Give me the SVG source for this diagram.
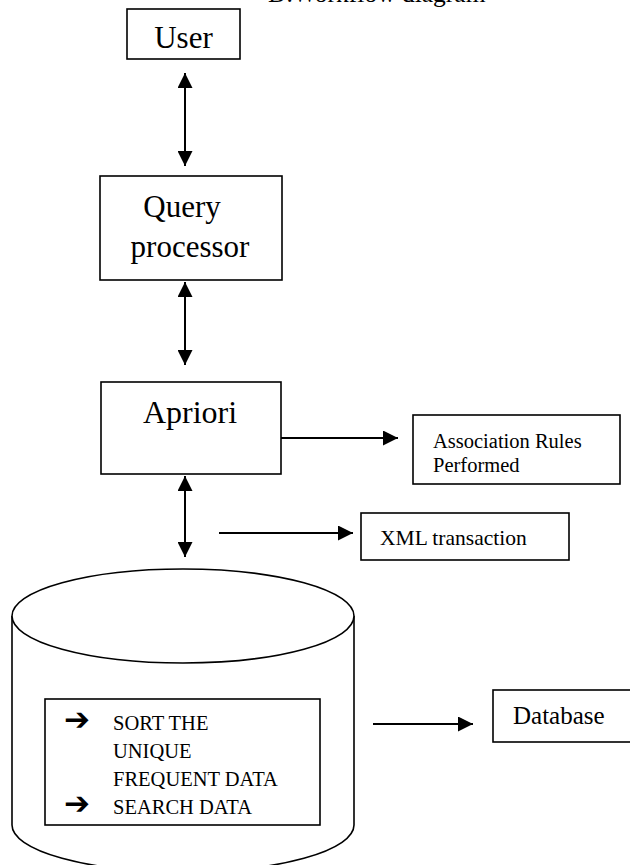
<svg xmlns="http://www.w3.org/2000/svg" width="630" height="865" viewBox="0 0 630 865">
<defs>
<style>
.box{fill:#fff;stroke:#000;stroke-width:1.6}
.t{font-family:"Liberation Serif","Times New Roman",serif;fill:#000}
.ln{stroke:#000;stroke-width:2;fill:none}
.shape{fill:#fff;stroke:#000;stroke-width:1.6}
.bul{font-family:"DejaVu Sans",sans-serif;font-weight:bold;font-size:31px;fill:#000}
</style>
<marker id="ah" viewBox="0 0 15 15" refX="15" refY="7.5" markerWidth="15" markerHeight="15" markerUnits="userSpaceOnUse" orient="auto-start-reverse">
<path d="M0,0 L15,7.5 L0,15 z" fill="#000"/>
</marker>
</defs>
<rect width="630" height="865" fill="#fff"/>
<text class="t" x="268" y="2" font-size="25.5">D.Workflow diagram</text>

<g id="connectors">
<line class="ln" x1="185" y1="73" x2="185" y2="166" marker-start="url(#ah)" marker-end="url(#ah)"/>
<line class="ln" x1="185" y1="282" x2="185" y2="365" marker-start="url(#ah)" marker-end="url(#ah)"/>
<line class="ln" x1="281" y1="438" x2="398" y2="438" marker-end="url(#ah)"/>
<line class="ln" x1="185" y1="476" x2="185" y2="557" marker-start="url(#ah)" marker-end="url(#ah)"/>
<line class="ln" x1="219" y1="533" x2="353" y2="533" marker-end="url(#ah)"/>
<line class="ln" x1="373" y1="724" x2="473" y2="724" marker-end="url(#ah)"/>
</g>

<g id="user">
<rect class="box" x="127" y="9" width="113" height="50"/>
<text class="t" x="183.5" y="48" font-size="31" text-anchor="middle">User</text>
</g>

<g id="query-processor">
<rect class="box" x="100" y="176" width="182" height="104"/>
<text class="t" x="182" y="217" font-size="31" text-anchor="middle">Query</text>
<text class="t" x="190" y="257" font-size="31" text-anchor="middle">processor</text>
</g>

<g id="apriori">
<rect class="box" x="101" y="382" width="180" height="92"/>
<text class="t" x="190" y="423" font-size="32" text-anchor="middle">Apriori</text>
</g>

<g id="association-rules">
<rect class="box" x="413" y="415" width="207" height="69"/>
<text class="t" x="433" y="448" font-size="20.5">Association Rules</text>
<text class="t" x="433" y="472" font-size="20.5">Performed</text>
</g>

<g id="xml-transaction">
<rect class="box" x="361" y="513" width="208" height="47"/>
<text class="t" x="380" y="545" font-size="21.5">XML transaction</text>
</g>

<g id="cylinder">
<path class="shape" d="M12,616 L12,825 A171,47 0 0 0 354,825 L354,616"/>
<ellipse class="shape" cx="183" cy="616" rx="171" ry="47"/>
<rect class="box" x="45" y="699" width="275" height="126"/>
<text class="bul" x="64" y="730">➔</text>
<text class="bul" x="64" y="814">➔</text>
<text class="t" x="113" y="730" font-size="20.5">SORT THE</text>
<text class="t" x="113" y="758" font-size="20.5">UNIQUE</text>
<text class="t" x="113" y="786" font-size="20.5">FREQUENT DATA</text>
<text class="t" x="113" y="814" font-size="20.5">SEARCH DATA</text>
</g>

<g id="database">
<rect class="box" x="493" y="690" width="140" height="52"/>
<text class="t" x="513" y="724" font-size="25">Database</text>
</g>
</svg>
